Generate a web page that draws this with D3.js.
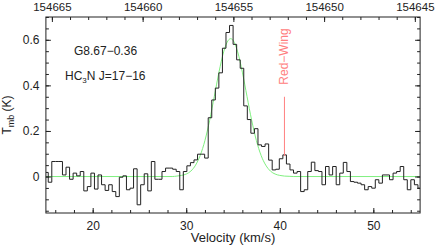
<!DOCTYPE html>
<html>
<head>
<meta charset="utf-8">
<script src="https://cdn.jsdelivr.net/npm/d3@7"></script>
<style>
  body { margin: 0; background: #fff; }
  svg { display: block; font-family: "Liberation Sans", Arial, sans-serif; }
  .tick text { font-size: 12px; fill: #222; }
  .tick line { stroke: #222; }
  .freq .tick text { font-size: 11.5px; }
</style>
</head>
<body>
<script>

// Spectrum channels: first channel edge and channel width (km/s),
// then the main-beam temperature read off every channel.

const chanStart = 14.87;
const chanWidth = 0.38;

const tmb = [
  0.018, -0.025, 0.066, 0.066, 0.066, 0.007, 0.041, -0.012, 0.015, 0.003,
  0.022, -0.063, -0.044, 0.015, -0.055, 0.007, -0.036, -0.061, -0.036, -0.066,
  -0.088, -0.003, 0.003, -0.058, -0.051, 0.034, -0.124, -0.036, 0.012, -0.063,
  0.066, -0.012, -0.012, 0.022, 0.037, 0.037, 0.032, 0.022, -0.058, 0.022,
  0.047, 0.061, 0.073, 0.098, 0.098, 0.081, 0.258, 0.336, 0.388, 0.455,
  0.563, 0.632, 0.663, 0.580, 0.512, 0.475, 0.310, 0.250, 0.190, 0.210,
  0.139, 0.132, 0.143, 0.072, 0.029, 0.032, 0.078, 0.095, 0.055, 0.029,
  0.015, 0.022, -0.066, -0.058, 0.022, 0.063, 0.026, 0.022, -0.036, 0.044,
  0.007, 0.044, -0.036, 0.015, 0.062, 0.022, -0.022, -0.025, -0.029, -0.036,
  -0.058, -0.044, -0.051, -0.014, -0.029, 0.007, 0.007, -0.014, 0.015, 0.022,
  0.044, -0.014, -0.058, -0.014, -0.036, -0.051
];

// Gaussian fit (green), read as points off the picture.

const fitV = [15, 28.5, 29, 29.5, 30, 30.5, 31, 31.5, 32, 32.5, 33, 33.5, 34, 34.5, 34.75,
  35, 35.5, 36, 36.5, 37, 37.5, 38, 38.5, 39, 39.5, 40, 40.5, 41, 41.5, 55];
const fitT = [0, 0, 0.002, 0.005, 0.011, 0.024, 0.050, 0.093, 0.158, 0.246, 0.351, 0.458, 0.547, 0.598, 0.605,
  0.598, 0.547, 0.458, 0.351, 0.246, 0.158, 0.093, 0.050, 0.024, 0.011, 0.005, 0.002, 0.001, 0, 0];

// Red-wing marker.

const wingV = 40.5;
const wingTop = 0.35;
const wingBottom = 0.09;

// Axis ticks.

const velTicks = [20, 30, 40, 50];
const tmbTicks = [0, 0.2, 0.4, 0.6];
const freqTicks = [154665, 154660, 154655, 154650, 154645];

const width = 436;
const height = 245;

const plotLeft = 45.9, plotRight = 420.1, plotTop = 17, plotBottom = 213;

let svg = d3.select("body")
    .append("svg")
    .attr("width", width)
    .attr("height", height);

let x = d3.scaleLinear().domain([15, 55]).range([plotLeft, plotRight]);
let y = d3.scaleLinear().domain([-0.16, 0.70]).range([plotBottom, plotTop]);

// Top axis: sky frequency (MHz), decreasing to the right.
let freq = d3.scaleLinear().domain([154665.33, 154644.71]).range([plotLeft, plotRight]);

svg.append("clipPath")
    .attr("id", "plot")
  .append("rect")
    .attr("x", plotLeft)
    .attr("y", plotTop)
    .attr("width", plotRight - plotLeft)
    .attr("height", plotBottom - plotTop);

let plot = svg.append("g").attr("clip-path", "url(#plot)");

// Zero baseline of the fit runs over the whole window, drawn with the fit.

let fitLine = d3.line()
    .x((d, i) => x(fitV[i]))
    .y((d, i) => y(fitT[i]))
    .curve(d3.curveMonotoneX);

plot.append("path")
    .datum(fitV)
    .attr("d", fitLine)
    .attr("fill", "none")
    .attr("stroke", "#80f080")
    .attr("stroke-width", 1);

// Histogram of the spectrum.

let steps = tmb.map((t, i) => [chanStart + i * chanWidth, t]);
steps.push([chanStart + tmb.length * chanWidth, tmb[tmb.length - 1]]);

let stepLine = d3.line()
    .x(d => x(d[0]))
    .y(d => y(d[1]))
    .curve(d3.curveStepAfter);

plot.append("path")
    .datum(steps)
    .attr("d", stepLine)
    .attr("fill", "none")
    .attr("stroke", "#222")
    .attr("stroke-width", 1);

// Red-wing marker and label.

svg.append("line")
    .attr("x1", x(wingV)).attr("x2", x(wingV))
    .attr("y1", y(wingTop)).attr("y2", y(wingBottom))
    .attr("stroke", "#ff8080")
    .attr("stroke-width", 1);

svg.append("text")
    .attr("transform", "translate(" + (x(wingV) + 4) + "," + 56.5 + ") rotate(-90)")
    .attr("text-anchor", "middle")
    .attr("font-size", 12)
    .attr("fill", "#ff8080")
    .text("Red\u2212Wing");

// Axes, ticks pointing inward.

function inward(g) {
  g.select(".domain").remove();
}

svg.append("g")
    .attr("transform", "translate(0," + plotBottom + ")")
    .call(d3.axisBottom(x).tickValues(d3.range(16, 55, 2)).tickSize(-3).tickFormat(""))
    .call(inward);
svg.append("g")
    .attr("transform", "translate(0," + plotBottom + ")")
    .call(d3.axisBottom(x).tickValues(velTicks).tickSize(-5).tickPadding(8.5))
    .call(inward);

svg.append("g")
    .attr("transform", "translate(0," + plotTop + ")")
    .call(d3.axisTop(freq).tickValues(d3.range(154645, 154666, 1)).tickSize(-3).tickFormat(""))
    .call(inward);
svg.append("g")
    .attr("class", "freq")
    .attr("transform", "translate(0," + plotTop + ")")
    .call(d3.axisTop(freq).tickValues(freqTicks).tickSize(-5).tickPadding(6.5).tickFormat(d3.format("d")))
    .call(inward);

let minorT = d3.range(-3, 15).map(i => i * 0.05);

svg.append("g")
    .attr("transform", "translate(" + plotLeft + ",0)")
    .call(d3.axisLeft(y).tickValues(minorT).tickSize(-3).tickFormat(""))
    .call(inward);
svg.append("g")
    .attr("transform", "translate(" + plotLeft + ",0)")
    .call(d3.axisLeft(y).tickValues(tmbTicks).tickSize(-5).tickPadding(6.5)
      .tickFormat(d => d === 0 ? "0" : d3.format(".1f")(d)))
    .call(inward);

svg.append("g")
    .attr("transform", "translate(" + plotRight + ",0)")
    .call(d3.axisRight(y).tickValues(minorT).tickSize(-3).tickFormat(""))
    .call(inward);
svg.append("g")
    .attr("transform", "translate(" + plotRight + ",0)")
    .call(d3.axisRight(y).tickValues(tmbTicks).tickSize(-5).tickFormat(""))
    .call(inward);

// Frame.

svg.append("rect")
    .attr("x", plotLeft)
    .attr("y", plotTop)
    .attr("width", plotRight - plotLeft)
    .attr("height", plotBottom - plotTop)
    .attr("fill", "none")
    .attr("stroke", "#222")
    .attr("stroke-width", 1);

// Axis titles.

svg.append("text")
    .attr("x", 233)
    .attr("y", 242)
    .attr("text-anchor", "middle")
    .attr("font-size", 13)
    .attr("fill", "#222")
    .text("Velocity (km/s)");

let ytitle = svg.append("text")
    .attr("transform", "translate(10.5,115) rotate(-90)")
    .attr("text-anchor", "middle")
    .attr("font-size", 12)
    .attr("fill", "#222");
ytitle.append("tspan").text("T");
ytitle.append("tspan").attr("font-size", 9).attr("dy", 3).text("mb");
ytitle.append("tspan").attr("dy", -3).text(" (K)");

// Source and line labels.

svg.append("text")
    .attr("x", 74)
    .attr("y", 55)
    .attr("font-size", 12)
    .attr("fill", "#222")
    .text("G8.67\u22120.36");

let lineLabel = svg.append("text")
    .attr("x", 65)
    .attr("y", 80)
    .attr("font-size", 12)
    .attr("fill", "#222");
lineLabel.append("tspan").text("HC");
lineLabel.append("tspan").attr("font-size", 8).attr("dy", 3).text("3");
lineLabel.append("tspan").attr("dy", -3).text("N  J=17\u221216");

</script>
</body>
</html>
